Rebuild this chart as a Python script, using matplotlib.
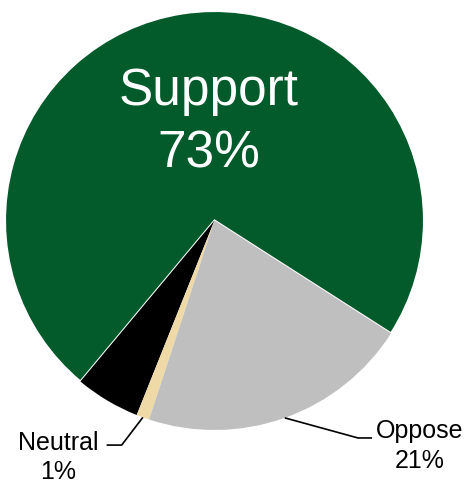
import numpy as np
import matplotlib
matplotlib.use("Agg")
import matplotlib.pyplot as plt

plt.rcParams["font.family"] = ["Liberation Sans", "DejaVu Sans"]

categories = ["Support", "Other", "Neutral", "Oppose"]
shares     = [73, 5, 1, 21]
colors     = ["#035A2A", "#000000", "#EFD9A6", "#BFBFBF"]

W, H = 471, 483
fig = plt.figure(figsize=(W / 100, H / 100), dpi=100)
# pie centre (214.5, 220.5) px, radius 209.5 px
cx, cy, r = 214.5, 220.5, 209.5
ax = fig.add_axes([(cx - r) / W, (H - cy - r) / H, 2 * r / W, 2 * r / H])
ax.axis("off")

wedges, _ = ax.pie(shares, colors=colors, startangle=-32.6, counterclock=True,
                   radius=1, wedgeprops=dict(linewidth=0))
ax.set_xlim(-1, 1); ax.set_ylim(-1, 1)
wedges[0].set_edgecolor("white")
wedges[0].set_linewidth(1.5)

def two_lines(x, y_top, y_bot, a, b, **kw):
    # two centred lines placed by their baselines
    ax.text(x, y_top, a, ha="center", va="baseline", clip_on=False, **kw)
    ax.text(x, y_bot, b, ha="center", va="baseline", clip_on=False, **kw)

# big label inside the support slice
two_lines(-0.026, 0.551, 0.251, categories[0], f"{shares[0]}%",
          color="white", fontsize=37)

def mid_point(w):
    a = np.deg2rad((w.theta1 + w.theta2) / 2)
    return np.cos(a), np.sin(a)

# callouts: elbow, end, text x, baselines
callouts = {
    "Oppose":  ((0.685, -1.038), (0.752, -1.038), 0.981, (-1.038, -1.181)),
    "Neutral": ((-0.443, -1.072), (-0.515, -1.072), -0.745, (-1.095, -1.236)),
}
for name, (elbow, end, tx, (yb1, yb2)) in callouts.items():
    i = categories.index(name)
    x0, y0 = mid_point(wedges[i])
    ax.plot([x0, elbow[0], end[0]], [y0, elbow[1], end[1]], color="black",
            lw=1.2, clip_on=False, solid_capstyle="butt")
    two_lines(tx, yb1, yb2, name, f"{shares[i]}%", fontsize=18)

fig.savefig("out.png", dpi=100, facecolor="white")
